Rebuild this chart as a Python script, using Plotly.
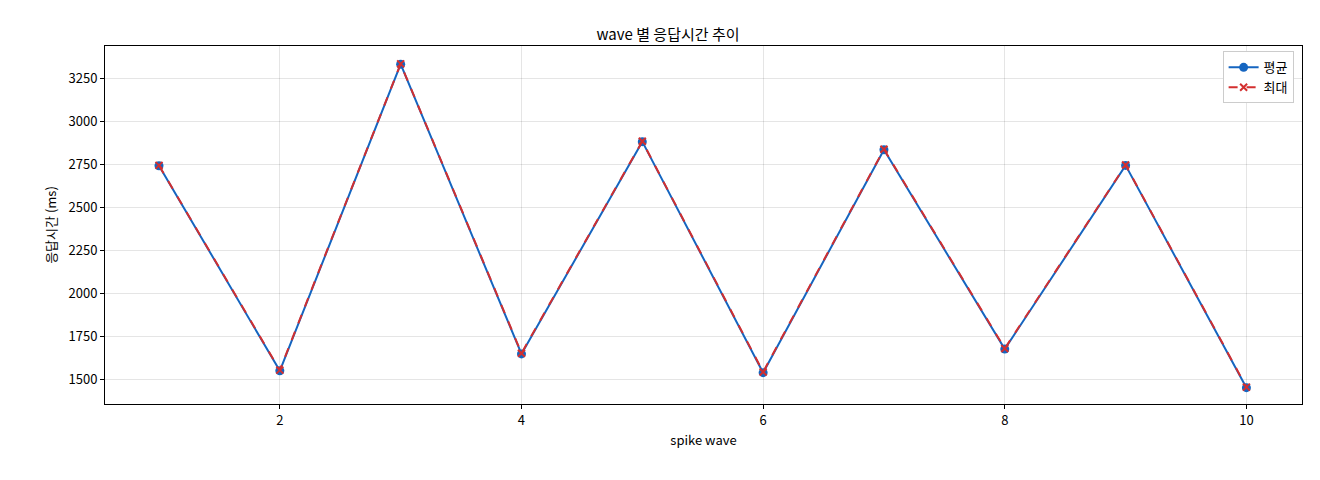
import plotly.graph_objects as go

waves = [1, 2, 3, 4, 5, 6, 7, 8, 9, 10]
avg_ms = [2740, 1548, 3330, 1646, 2880, 1537, 2833, 1674, 2742, 1450]
max_ms = [2742, 1552, 3332, 1650, 2882, 1541, 2836, 1678, 2744, 1453]

fig = go.Figure()

fig.add_trace(go.Scatter(x=waves, y=avg_ms, mode='lines+markers', name='평균',
                         line=dict(color='#1565c0', width=2),
                         marker=dict(symbol='circle', size=9, color='#1565c0')))

fig.add_trace(go.Scatter(x=waves, y=max_ms, mode='lines+markers', name='최대',
                         line=dict(color='#d32f2f', width=2, dash='dash'),
                         marker=dict(symbol='x-thin', size=7, color='#d32f2f',
                                     line=dict(color='#d32f2f', width=2))))

axis_style = dict(showline=True, linecolor='black', linewidth=1, mirror=True,
                  ticks='outside', tickcolor='black', ticklen=4,
                  gridcolor='rgba(0,0,0,0.1)', zeroline=False)

fig.update_layout(
    width=1320, height=480,
    font=dict(family='Noto Sans CJK KR', size=13, color='black'),
    title=dict(text='wave 별 응답시간 추이', x=0.5, xanchor='center', y=0.955, font=dict(size=15)),
    plot_bgcolor='white', paper_bgcolor='white',
    margin=dict(l=97, r=26, t=38, b=84),
    xaxis=dict(title=dict(text='spike wave', standoff=8, font=dict(size=13)), range=[0.553, 10.46],
               tickvals=[2, 4, 6, 8, 10], **axis_style),
    yaxis=dict(title=dict(text='응답시간 (ms)', standoff=8, font=dict(size=13)), range=[1355, 3436],
               tickvals=[1500, 1750, 2000, 2250, 2500, 2750, 3000, 3250], **axis_style),
    legend=dict(x=0.993, y=0.985, xanchor='right', yanchor='top',
                bordercolor='#cccccc', borderwidth=1, bgcolor='white'),
)

fig.write_html("out.html")
